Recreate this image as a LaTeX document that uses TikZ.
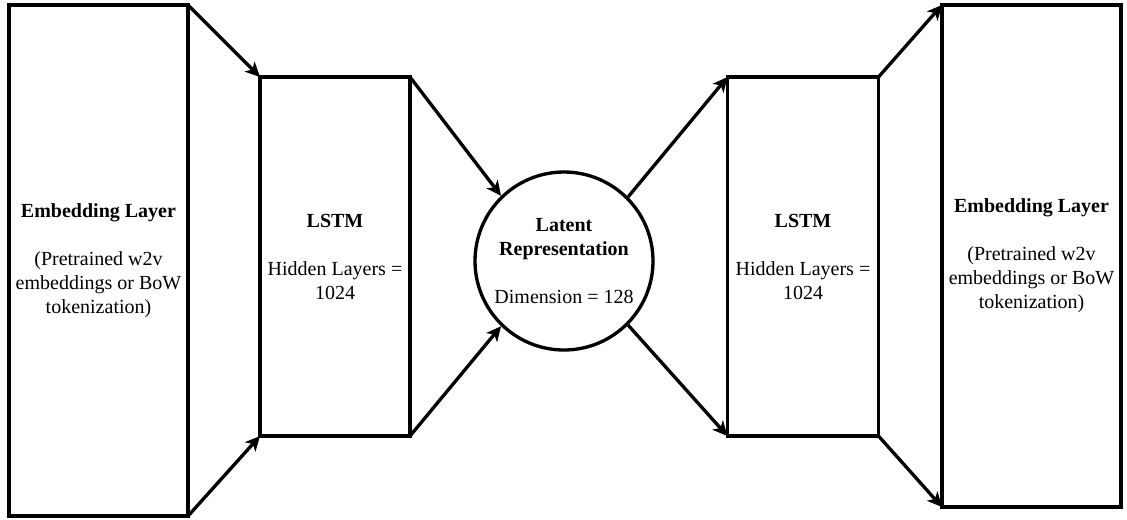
\documentclass[tikz,border=0pt]{standalone}
\usepackage{fontspec}
\setmainfont{Liberation Serif}
\usetikzlibrary{arrows.meta}
\tikzset{every node/.style={font=\fontsize{15pt}{18pt}\selectfont}}
\begin{document}
\begin{tikzpicture}[x=0.75pt,y=-0.75pt,
  layer/.style={draw, line width=2.5pt, rectangle, inner sep=0pt, outer sep=0pt, align=center},
  latent/.style={draw, line width=2.5pt, circle, inner sep=0pt,
    minimum size=133.5pt, align=center},
  arr/.style={line width=2.5pt, -{Stealth[length=11pt,width=10.5pt,inset=3pt]}}]
\useasboundingbox (0,0) rectangle (1127,519);

% encoder side
\node[layer, minimum width=134.25pt, minimum height=383.25pt] (emb1) at (98.5,260.5)
  {\textbf{Embedding Layer}\\[18pt](Pretrained w2v\\embeddings or BoW\\tokenization)};
\node[layer, minimum width=112.5pt, minimum height=269.25pt] (lstm1) at (335,256.5)
  {\textbf{LSTM}\\[18pt]Hidden Layers =\\1024};

% bottleneck
\node[latent] (lat) at (564,261)
  {\textbf{Latent}\\\textbf{Representation}\\[18pt]Dimension = 128};

% decoder side
\node[layer, minimum width=113.25pt, minimum height=269.25pt] (lstm2) at (803,256.5)
  {\textbf{LSTM}\\[18pt]Hidden Layers =\\1024};
\node[layer, minimum width=134.25pt, minimum height=376.5pt] (emb2) at (1031.5,256)
  {\textbf{Embedding Layer}\\[18pt](Pretrained w2v\\embeddings or BoW\\tokenization)};

% connections
\draw[arr] (emb1.north east) -- (lstm1.north west);
\draw[arr] (emb1.south east) -- (lstm1.south west);
\draw[arr] (lstm1.north east) -- (lat.134);
\draw[arr] (lstm1.south east) -- (lat.226);
\draw[arr] (lat.45) -- (lstm2.north west);
\draw[arr] (lat.315) -- (lstm2.south west);
\draw[arr] (lstm2.north east) -- (emb2.north west);
\draw[arr] (lstm2.south east) -- (emb2.south west);
\end{tikzpicture}
\end{document}
